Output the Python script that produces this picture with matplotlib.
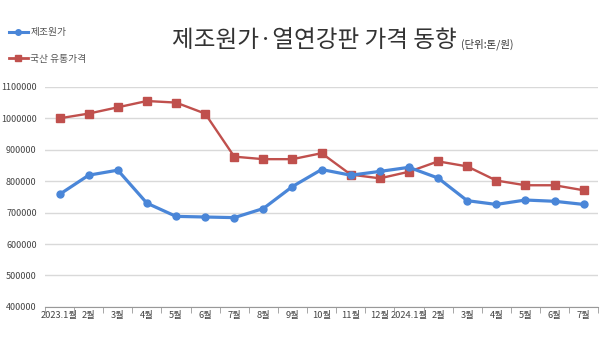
import numpy as np
import matplotlib.pyplot as plt
from matplotlib.lines import Line2D

plt.rcParams['font.family'] = ['Noto Sans CJK KR', 'DejaVu Sans']

months = ["2023.1월", "2월", "3월", "4월", "5월", "6월", "7월", "8월", "9월", "10월",
          "11월", "12월", "2024.1월", "2월", "3월", "4월", "5월", "6월", "7월"]

cost = [758000, 819000, 835000, 730000, 688000, 686000, 684000, 713000, 783000, 837000,
        819000, 831000, 844000, 810000, 738000, 726000, 740000, 736000, 726000]

domestic = [1000000, 1015000, 1035000, 1055000, 1050000, 1015000, 878000, 870000, 870000, 889000,
            821000, 809000, 830000, 863000, 847000, 802000, 787000, 787000, 771000]

yticks = [400000, 500000, 600000, 700000, 800000, 900000, 1000000, 1100000]

BLUE = "#4a86d8"
RED = "#c0504d"


def main():
    fig = plt.figure(figsize=(6.0, 3.38), dpi=100)
    ax = fig.add_axes([0.075, 0.092, 0.922, 0.651])

    x = np.arange(len(months))
    ax.plot(x, domestic, color=RED, lw=1.7, marker="s", ms=5.5, zorder=3)
    ax.plot(x, cost, color=BLUE, lw=2.3, marker="o", ms=5, zorder=4)

    ax.set_xlim(-0.5, len(months) - 0.5)
    ax.set_ylim(400000, 1100000)
    ax.set_yticks(yticks)
    ax.set_yticklabels([str(v) for v in yticks], fontsize=6.5, color="#444444")
    ax.tick_params(axis="y", length=0, pad=6)

    ax.set_xticks(x)
    ax.set_xticklabels(months, fontsize=6.7, color="#444444")
    ax.set_xticks(np.arange(-0.5, len(months)), minor=True)
    ax.tick_params(axis="x", which="major", length=0, pad=3)
    ax.tick_params(axis="x", which="minor", length=4, color="#999999")

    ax.grid(axis="y", color="#d9d9d9", lw=1.0)
    ax.set_axisbelow(True)
    for side in ["top", "right", "left"]:
        ax.spines[side].set_visible(False)
    ax.spines["bottom"].set_color("#999999")

    fig.text(0.762, 0.86, "제조원가·열연강판 가격 동향", fontsize=17, color="#333333",
             ha="right", va="baseline")
    fig.text(0.768, 0.86, "(단위:톤/원)", fontsize=7.5, color="#333333",
             ha="left", va="baseline")

    handles = [
        Line2D([0], [0], color=BLUE, lw=2.2, marker="o", ms=4),
        Line2D([0], [0], color=RED, lw=2.0, marker="s", ms=4.5),
    ]
    fig.legend(handles, ["제조원가", "국산 유통가격"], loc="upper left",
               bbox_to_anchor=(0.0, 0.945), frameon=False, fontsize=7,
               labelcolor="#555555", handlelength=2.0, handletextpad=0.2,
               labelspacing=1.7)

    fig.savefig("out.png", dpi=100)
    plt.close(fig)


if __name__ == "__main__":
    main()
